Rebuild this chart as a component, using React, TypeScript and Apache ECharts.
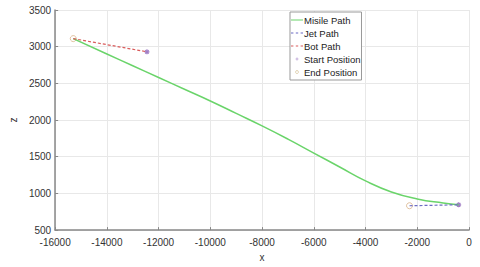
import React, { useEffect, useRef } from "react";
import * as echarts from "echarts";

const missileX = [-15300, -14000, -13000, -12000, -11000, -10000, -9000, -8000, -7000, -6000, -5000, -4000, -3000, -2000, -1000, -400];
const missileZ = [3110, 2900, 2740, 2580, 2420, 2260, 2090, 1920, 1740, 1550, 1360, 1170, 1020, 925, 870, 845];
const jetX = [-2300, -400];
const jetZ = [832, 845];
const botX = [-15300, -12450];
const botZ = [3110, 2930];
const startX = [-12450, -400];
const startZ = [2930, 845];
const endX = [-15300, -2300];
const endZ = [3110, 832];

const zip = (xs: number[], ys: number[]) => xs.map((x, i) => [x, ys[i]]);

const BOX = "M0,0h0.01v0.01h-0.01zM11.99,9.99h0.01v0.01h-0.01z";
const solidIcon = "path://" + BOX + "M0,4.4h12v1.2h-12z";
const dashIcon = "path://" + BOX + "M0,4.5h2.4v1h-2.4zM4.8,4.5h2.4v1h-2.4zM9.6,4.5h2.4v1h-2.4z";
const starIcon = "path://" + BOX + "M5.7,3.5h0.6v3h-0.6zM4.5,4.7h3v0.6h-3z";
const circIcon = "path://" + BOX + "M6,3.3A1.7,1.7 0 1 1 5.99,3.3zM6,3.9A1.1,1.1 0 1 0 6.01,3.9z";

export default function App() {
  const ref = useRef<HTMLDivElement>(null);
  useEffect(() => {
    if (!ref.current) return;
    const chart = echarts.init(ref.current, null, { renderer: "svg" });
    const axisLabel = {
      color: "#333",
      fontSize: 10,
      fontFamily: "Liberation Sans, Arial",
      formatter: (v: number) => String(v),
    };
    chart.setOption({
      animation: false,
      backgroundColor: "#fff",
      grid: { left: 38, right: 11, top: 10, bottom: 30 },
      legend: {
        orient: "vertical",
        left: 290,
        top: 12,
        backgroundColor: "#fff",
        borderColor: "#999",
        borderWidth: 1,
        borderRadius: 0,
        padding: [3, 1, 3, 1],
        itemGap: 3,
        itemWidth: 12,
        itemHeight: 10,
        textStyle: { color: "#222", fontSize: 9.5, fontFamily: "Liberation Sans, Arial", padding: [0, 0, 0, -4] },
        data: [
          { name: "Misile Path", icon: solidIcon, itemStyle: { color: "#6ad46a" } },
          { name: "Jet Path", icon: dashIcon, itemStyle: { color: "#6b6bc4" } },
          { name: "Bot Path", icon: dashIcon, itemStyle: { color: "#d95c5c" } },
          { name: "Start Position", icon: starIcon, itemStyle: { color: "#8a5fb8", borderWidth: 0 } },
          { name: "End Position", icon: circIcon, itemStyle: { color: "#c9b27a", borderWidth: 0 } },
        ],
      },
      xAxis: {
        type: "value",
        min: -16000,
        max: 0,
        interval: 2000,
        name: "x",
        nameLocation: "middle",
        nameGap: 21,
        nameTextStyle: { color: "#333", fontSize: 10, fontFamily: "Liberation Sans, Arial" },
        axisLine: { show: true, onZero: false, lineStyle: { color: "#888", width: 1.5 } },
        axisTick: { show: true, inside: true, length: 3, lineStyle: { color: "#888" } },
        axisLabel: { ...axisLabel, margin: 7 },
        splitLine: { show: true, lineStyle: { color: "#e8e8e8", width: 1 } },
      },
      yAxis: {
        type: "value",
        min: 500,
        max: 3500,
        interval: 500,
        name: "z",
        nameLocation: "middle",
        nameGap: 26,
        nameTextStyle: { color: "#333", fontSize: 10, fontFamily: "Liberation Sans, Arial" },
        axisLine: { show: true, onZero: false, lineStyle: { color: "#888", width: 1.5 } },
        axisTick: { show: true, inside: true, length: 3, lineStyle: { color: "#888" } },
        axisLabel: { ...axisLabel, margin: 4 },
        splitLine: { show: true, lineStyle: { color: "#e8e8e8", width: 1 } },
      },
      series: [
        {
          name: "Misile Path",
          type: "line",
          smooth: true,
          symbol: "none",
          data: zip(missileX, missileZ),
          lineStyle: { color: "#6ad46a", width: 1.5 },
          itemStyle: { color: "#6ad46a" },
        },
        {
          name: "Jet Path",
          type: "line",
          symbol: "none",
          data: zip(jetX, jetZ),
          lineStyle: { color: "#6b6bc4", width: 1.2, type: [3, 2] },
          itemStyle: { color: "#6b6bc4" },
        },
        {
          name: "Bot Path",
          type: "line",
          symbol: "none",
          data: zip(botX, botZ),
          lineStyle: { color: "#d95c5c", width: 1.2, type: [3, 2] },
          itemStyle: { color: "#d95c5c" },
        },
        {
          name: "Start Position",
          type: "scatter",
          symbol: "path://M0,-1L0,1M-1,0L1,0M-0.7,-0.7L0.7,0.7M-0.7,0.7L0.7,-0.7",
          symbolSize: 5,
          data: zip(startX, startZ),
          itemStyle: { color: "none", borderColor: "#8a5fb8", borderWidth: 1.2 },
        },
        {
          name: "End Position",
          type: "scatter",
          symbol: "circle",
          symbolSize: 6,
          data: zip(endX, endZ),
          itemStyle: { color: "#fff", borderColor: "#d9b38a", borderWidth: 1 },
        },
      ],
    });
    return () => chart.dispose();
  }, []);
  return <div ref={ref} style={{ width: 480, height: 267, position: "absolute", left: 0, top: 0 }} />;
}
